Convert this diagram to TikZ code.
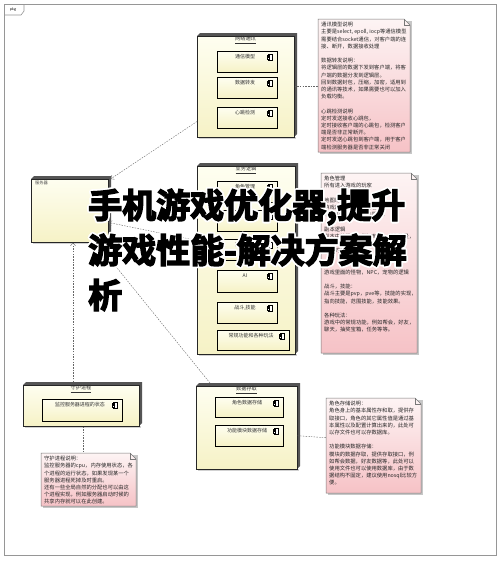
\documentclass[tikz,border=0pt]{standalone}
\usepackage{fontspec}
\newfontfamily\cjk{Noto Sans CJK SC}
\newfontfamily\titlefont{Noto Sans CJK SC}[BoldFont=* Bold, BoldFeatures={FakeBold=4}]
\usetikzlibrary{arrows.meta,calc}
\definecolor{cream1}{RGB}{254,254,240}
\definecolor{cream2}{RGB}{246,242,198}
\definecolor{pink1}{RGB}{253,244,244}
\definecolor{pink2}{RGB}{246,194,198}
\definecolor{framegray}{RGB}{150,150,150}
\definecolor{depthgray}{RGB}{85,85,85}
\definecolor{notegray}{RGB}{120,120,120}
\tikzset{
  container/.style={draw=black!85, line width=0.5pt, top color=cream1, bottom color=cream2, inner sep=0pt},
  ctitle/.style={font=\cjk\fontsize{5.2}{6}\selectfont, text=black!80, inner sep=0pt},
  compbox/.style={draw=black, line width=0.6pt, top color=cream1, bottom color=cream2, inner sep=0pt},
  comptext/.style={font=\cjk\fontsize{5}{6}\selectfont, text=black!80, inner sep=0pt},
  notetext/.style={font=\cjk\fontsize{5.3}{7.2}\selectfont, text=black!85, align=left, inner sep=0pt},
  notebody/.style={inner sep=0pt},
  link/.style={draw=black!60, line width=0.4pt, dash pattern=on 1.5pt off 1.2pt},
  dep/.style={link, -{Straight Barb[length=3pt,width=5pt]}},
  bigtitle/.style={font=\titlefont\bfseries\fontsize{34}{40}\selectfont, inner sep=0pt, anchor=base west},
}
\newcommand\umlnode[6]{%
  \fill[depthgray] (#2,#3+3) -- (#2+3,#3) -- (#4,#3) -- (#4,#5-3) -- (#4-3,#5) -- (#4-3,#3+3) -- cycle;
  \fill[black!18] (#2+2,#5) rectangle (#4-1,#5+2);
  \node[container, minimum width={#4-#2-3}, minimum height={#5-#3-3}, anchor=north west] (#1) at (#2,#3+3) {};
  \node[ctitle] (#1-t) at ({(#2+#4-3)/2},#3+7) {\underline{#6}};
}
\newcommand\umlcomp[6]{%
  \node[compbox, minimum width={#4-#2}, minimum height={#5-#3}, anchor=north west] (#1) at (#2,#3) {};
  \node[comptext] (#1-t) at ({(#2+#4)/2-2},#3+6) {#6};
  \draw[black, line width=0.4pt, fill=white] (#4-9,#3+3) rectangle (#4-5,#3+9);
  \draw[black, line width=0.3pt, fill=white] (#4-10,#3+4) rectangle (#4-8,#3+5.5);
  \draw[black, line width=0.3pt, fill=white] (#4-10,#3+6.5) rectangle (#4-8,#3+8);
}
\newcommand\umlnote[6]{%
  \fill[black!22] (#2+2,#3+2) -- (#4+2,#3+2) -- (#4+2,#5+2) -- (#2+2,#5+2) -- cycle;
  \path[draw=notegray, line width=0.5pt, top color=pink1, bottom color=pink2]
    (#2,#3) -- (#4-6,#3) -- (#4,#3+6) -- (#4,#5) -- (#2,#5) -- cycle;
  \draw[notegray, line width=0.5pt] (#4-6,#3) -- (#4-6,#3+6) -- (#4,#3+6);
  \node[notebody, minimum width={#4-#2}, minimum height={#5-#3}, anchor=north west] (#1) at (#2,#3) {};
  \node[notetext, anchor=north west] (#1-t) at (#2+3,#3+3) {#6};
}
\begin{document}
\begin{tikzpicture}[x=1pt,y=-1pt]
\useasboundingbox[fill=white] (0,0) rectangle (500,563);
% outer frame
\draw[framegray, line width=0.6pt] (4,4) rectangle (496,555);
\draw[framegray, line width=0.6pt] (4,15) -- (21,15) -- (24,11) -- (24,4);
\node[font=\fontsize{4}{5}\selectfont\sffamily, inner sep=0pt] (pkg) at (13,10) {pkg};

% server
\umlnode{S}{31}{176}{111}{242}{}
\node[font=\cjk\fontsize{4.2}{5}\selectfont, text=black!70, inner sep=0pt, anchor=north west] (S-l) at (35,181) {服务器};

% network
\umlnode{N}{197}{33}{297}{137}{网络通讯}
\umlcomp{c11}{217}{51}{277}{72}{通信模型}
\umlcomp{c12}{217}{77}{277}{98}{数据转发}
\umlcomp{c13}{217}{107}{277}{128}{心跳检测}

% business logic
\umlnode{B}{197}{163}{298}{354}{业务逻辑}
\umlcomp{c21}{217}{181}{277}{202}{角色管理}
\umlcomp{c22}{217}{210}{277}{231}{地图场景}
\umlcomp{c23}{217}{239}{277}{260}{副本逻辑}
\umlcomp{c24}{217}{270}{277}{292}{AI}
\umlcomp{c25}{217}{302}{277}{323}{战斗,技能}
\umlcomp{c26}{217}{330}{289}{350}{常规功能和各种玩法}

% daemon
\umlnode{D}{23}{382}{142}{426}{守护进程}
\umlcomp{c31}{42}{399}{122}{421}{监控服务器进程的状态}

% data storage
\umlnode{DS}{196}{383}{300}{469}{数据存取}
\umlcomp{c41}{215}{397}{283}{417}{角色数据存储}
\umlcomp{c42}{215}{425}{283}{446}{功能模块数据存储}

% notes
\umlnote{n1}{318}{19}{410}{152}{通讯模型说明\\
主要是select, epoll, iocp等通信模型\\
需要结合socket通信，对客户端的连\\
接、断开，数据接收处理\\[7.2pt]
数据转发说明：\\
将逻辑层的数据下发到客户端，将客\\
户端的数据分发到逻辑层。\\
回到数据封包，压缩，加密，适用到\\
的通讯等技术，如果需要也可以加入\\
负载均衡。\\[7.2pt]
心跳检测说明\\
定时发送接收心跳包，\\
定时接收客户端的心跳包，检测客户\\
端是否非正常断开。\\
定时发送心跳包到客户端，用于客户\\
端检测服务器是否非正常关闭}

\umlnote{n2}{321}{173}{417}{353}{角色管理\\
所有进入游戏的玩家\\[7.2pt]
地图场景\\
游戏的场景，地图的管理，\\
场景中玩家的分发与同步。\\[7.2pt]
副本逻辑\\
副本中的怪物，例如布仁，任务数量，\\
副本的进度，奖励的发放，\\
副本的开启与关闭。\\[7.2pt]
AI：\\
游戏里面的怪物，NPC，宠物的逻辑\\[7.2pt]
战斗，技能：\\
战斗主要是pvp，pve等，技能的实现，\\
指向技能，范围技能，技能效果。\\[7.2pt]
各种玩法：\\
游戏中的常规功能，例如帮会，好友，\\
聊天，抽奖宝箱，任务等等。}

\umlnote{n3}{41}{453}{136}{506}{守护进程说明：\\
监控服务器的cpu，内存使用状态，各\\
个进程的运行状态，如果发现某一个\\
服务器进程死掉及时重启。\\
还有一些全局自然的分配也可以由这\\
个进程实现，例如服务器启动时候的\\
共享内存就可以在此创建。}

\umlnote{n4}{326}{398}{421}{493}{角色存储说明：\\
角色身上的基本属性存和取，提供存\\
取接口，角色的其它属性值是通过基\\
本属性以及配置计算出来的，此处可\\
以存文件也可以存数据库。\\[7.2pt]
功能模块数据存储：\\
模块的数据存取，提供存取接口，例\\
如帮会数据，好友数据等，此处可以\\
使用文件也可以使用数据库，由于数\\
据结构不固定，建议使用nosql比较方\\
便。}

% connectors
\draw[dep] ([yshift=16pt]N.south west) -- ([xshift=2pt]S.north east);
\draw[dep] ([yshift=114pt]B.south west) -- ([yshift=20pt]S.south east);
\draw[dep] ([xshift=14pt,yshift=3pt]DS.north west) -- ([xshift=-12pt]S.south east);
\draw[dep] ([xshift=50pt,yshift=3pt]D.north west) -- ([xshift=42pt]S.south west);
\draw[link] (N.east |- n1.west) -- (n1.west);
\draw[link] ([yshift=-8pt]DS.east) -- ([yshift=8pt]n4.west);
\draw[link] ([xshift=-5.5pt]n3.north |- D.south) -- ([xshift=-5.5pt]n3.north);

% big overlay title
\foreach \dx/\dy [count=\k] in {1.8/0, -1.8/0, 0/1.8, 0/-1.8, 1.3/1.3, -1.3/1.3, 1.3/-1.3, -1.3/-1.3} {
  \node[bigtitle, text=white] (ha\k) at (88+\dx,218+\dy) {手机游戏优化器,提升};
  \node[bigtitle, text=white] (hb\k) at (88+\dx,263+\dy) {游戏性能-解决方案解};
  \node[bigtitle, text=white] (hc\k) at (88+\dx,308+\dy) {析};
}
\node[bigtitle, text=black] (t1) at (88,218) {手机游戏优化器,提升};
\node[bigtitle, text=black] (t2) at (88,263) {游戏性能-解决方案解};
\node[bigtitle, text=black] (t3) at (88,308) {析};
\end{tikzpicture}
\end{document}
